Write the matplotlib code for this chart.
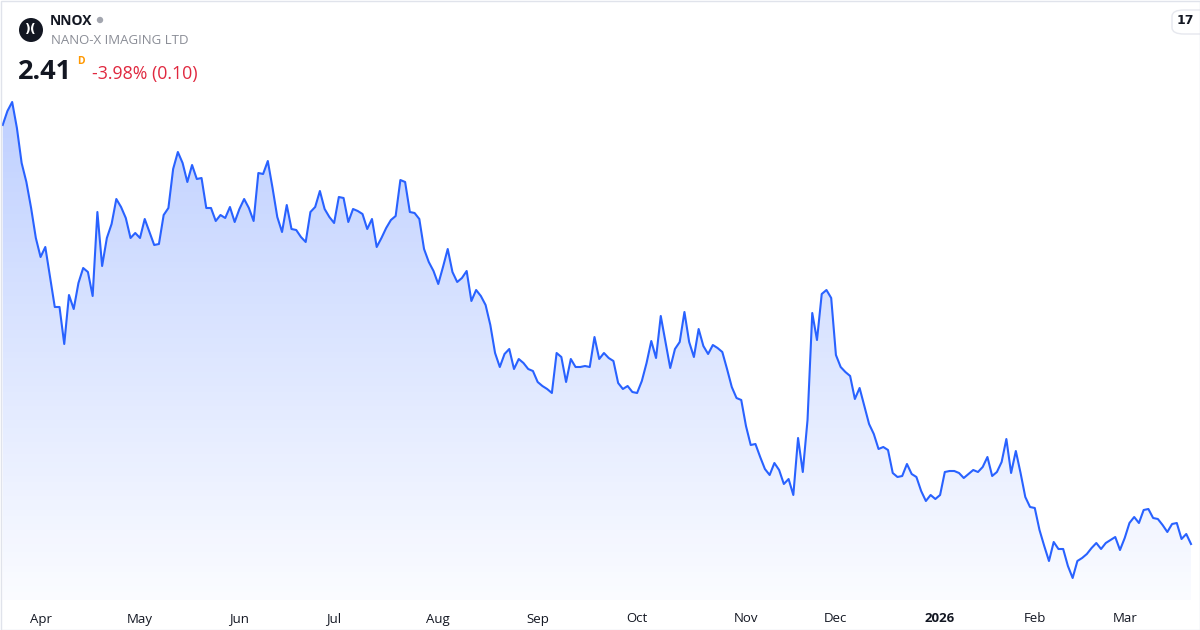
import numpy as np
import pandas as pd
import matplotlib.pyplot as plt
from matplotlib.patches import Circle, FancyBboxPatch, Rectangle

plt.rcParams['font.family'] = ['Open Sans', 'DejaVu Sans']

# daily closes (20 Mar 2025 .. 20 Mar 2026)
close = [
    6.60, 6.74, 6.83, 6.57, 6.22, 6.03, 5.77, 5.47, 5.28, 5.38,
    5.08, 4.78, 4.78, 4.41, 4.90, 4.76, 5.02, 5.17, 5.13, 4.89,
    5.73, 5.19, 5.47, 5.61, 5.86, 5.78, 5.67, 5.47, 5.52, 5.47,
    5.66, 5.53, 5.40, 5.41, 5.70, 5.77, 6.16, 6.33, 6.22, 6.03,
    6.20, 6.06, 6.07, 5.77, 5.77, 5.64, 5.70, 5.67, 5.78, 5.63,
    5.76, 5.86, 5.77, 5.64, 6.12, 6.11, 6.24, 5.97, 5.68, 5.53,
    5.80, 5.56, 5.55, 5.48, 5.43, 5.73, 5.78, 5.94, 5.76, 5.68,
    5.62, 5.88, 5.87, 5.63, 5.76, 5.74, 5.71, 5.56, 5.66, 5.38,
    5.47, 5.57, 5.65, 5.69, 6.05, 6.03, 5.73, 5.72, 5.66, 5.36,
    5.23, 5.14, 5.01, 5.18, 5.36, 5.13, 5.03, 5.07, 5.14, 4.84,
    4.95, 4.89, 4.80, 4.60, 4.32, 4.18, 4.31, 4.36, 4.16, 4.26,
    4.22, 4.16, 4.14, 4.03, 3.99, 3.96, 3.92, 4.32, 4.28, 4.03,
    4.26, 4.18, 4.18, 4.19, 4.18, 4.48, 4.26, 4.32, 4.27, 4.24,
    4.02, 3.96, 3.99, 3.93, 3.92, 4.04, 4.22, 4.44, 4.27, 4.69,
    4.43, 4.17, 4.36, 4.43, 4.73, 4.43, 4.28, 4.56, 4.39, 4.31,
    4.40, 4.37, 4.33, 4.16, 3.98, 3.87, 3.85, 3.59, 3.40, 3.41,
    3.28, 3.16, 3.10, 3.22, 3.15, 3.01, 3.06, 2.90, 3.47, 3.13,
    3.65, 4.72, 4.45, 4.91, 4.95, 4.87, 4.30, 4.18, 4.13, 4.09,
    3.86, 3.97, 3.79, 3.61, 3.51, 3.36, 3.38, 3.35, 3.12, 3.08,
    3.09, 3.21, 3.11, 3.08, 2.94, 2.84, 2.90, 2.86, 2.90, 3.13,
    3.14, 3.14, 3.12, 3.07, 3.11, 3.15, 3.13, 3.18, 3.28, 3.09,
    3.13, 3.23, 3.46, 3.12, 3.34, 3.12, 2.88, 2.78, 2.77, 2.55,
    2.39, 2.24, 2.43, 2.36, 2.36, 2.19, 2.07, 2.24, 2.27, 2.31,
    2.37, 2.42, 2.36, 2.42, 2.45, 2.48, 2.35, 2.47, 2.62, 2.68,
    2.62, 2.75, 2.76, 2.67, 2.66, 2.60, 2.53, 2.61, 2.62, 2.46,
    2.51, 2.41,
]

holidays = ['2025-04-18', '2025-05-26', '2025-06-19', '2025-07-04', '2025-09-01',
            '2025-11-27', '2025-12-25', '2026-01-01', '2026-01-19', '2026-02-16']
dates = pd.bdate_range('2025-03-20', '2026-03-20', freq='C', holidays=holidays)

ticker = 'NNOX'
company = 'NANO-X IMAGING LTD'
last_price = '2.41'
change_text = '-3.98% (0.10)'

blue = '#2962ff'
W, H = 1200, 630

fig = plt.figure(figsize=(12, 6.3), dpi=100)
fig.patch.set_facecolor('white')


def fx(x):
    return x / W


def fy(y):
    return 1 - y / H


def px_circle(x, y, r, color):
    # circle given in pixels (from top-left), drawn in inches so it stays round
    c = Circle((x / 100, (H - y) / 100), r / 100, transform=fig.dpi_scale_trans,
               facecolor=color, edgecolor='none')
    fig.patches.append(c)


# plot area: pixel x 1..1199, y 0..600
ax = fig.add_axes([fx(1), fy(600), fx(1198), 600 / H])
x = np.arange(len(close))
y = np.array(close)

step = (1191 - 2.7) / (len(close) - 1)
x0 = -(2.7 - 1) / step
x1 = (len(close) - 1) + (1199 - 1191) / step
ymin, ymax = 1.85, 7.85
ax.set_xlim(x0, x1)
ax.set_ylim(ymin, ymax)

# gradient fill under the line
poly = ax.fill_between(x, y, ymin, color='none', lw=0)
rows = 300
alpha = np.linspace(0.36, 0.02, rows)
grad = np.zeros((rows, 2, 4))
grad[..., 0] = 41 / 255
grad[..., 1] = 98 / 255
grad[..., 2] = 1.0
grad[..., 3] = alpha[:, None]
im = ax.imshow(grad, extent=[x0, x1, ymin, ymax], aspect='auto', origin='upper', zorder=1)
im.set_clip_path(poly.get_paths()[0], transform=ax.transData)

ax.plot(x, y, color=blue, lw=1.5, zorder=3, solid_joinstyle='round')

# month ticks at the first trading day of each month
months = pd.Series(dates.month)
first = np.where(months.diff().fillna(1) != 0)[0]
first = [i for i in first if dates[i].day <= 5]
labels = []
for i in first:
    d = dates[i]
    labels.append(str(d.year) if d.month == 1 else d.strftime('%b'))
ax.set_xticks(first)
ax.set_xticklabels(labels)
for t, lab in zip(ax.get_xticklabels(), labels):
    t.set_fontsize(9.5)
    t.set_color('#131722')
    if lab.isdigit():
        t.set_fontweight('bold')
ax.tick_params(axis='x', length=0, pad=9)
ax.set_yticks([])
for s in ax.spines.values():
    s.set_visible(False)
ax.set_facecolor('none')

# header
px_circle(31, 30, 12, '#131722')
fig.text(fx(31), fy(30), ')(', color='white', fontsize=9, fontweight='bold',
         ha='center', va='center', family='DejaVu Sans')
fig.text(fx(50), fy(21), ticker, fontsize=10, fontweight='bold', color='#131722',
         ha='left', va='center')
px_circle(100, 20, 3.2, '#a3a6af')
fig.text(fx(51), fy(41), company, fontsize=9.5, color='#8a8d96', ha='left', va='center')
fig.text(fx(18), fy(72), last_price, fontsize=19.5, fontweight='bold', color='#131722',
         ha='left', va='center')
fig.text(fx(77), fy(61), 'D', fontsize=7.5, fontweight='bold', color='#ff9800',
         ha='left', va='center')
fig.text(fx(92), fy(74), change_text, fontsize=12.8, color='#e0283f', ha='left', va='center')

# TradingView badge in the corner
fig.patches.append(FancyBboxPatch((fx(1172), fy(34)), 40 / W, 24 / H,
                                  boxstyle='round,pad=0,rounding_size=0.01',
                                  transform=fig.transFigure, facecolor='white',
                                  edgecolor='#e6e8ee', lw=1))
fig.text(fx(1185), fy(21), '17', fontsize=9, fontweight='bold', color='#131722',
         ha='center', va='center', family='DejaVu Sans')

# outer frame
fig.patches.append(Rectangle((fx(0.5), fy(629.5)), 1199 / W, 629 / H, transform=fig.transFigure,
                             facecolor='none', edgecolor='#e0e3eb', lw=1))

fig.savefig('out.png', dpi=100)
